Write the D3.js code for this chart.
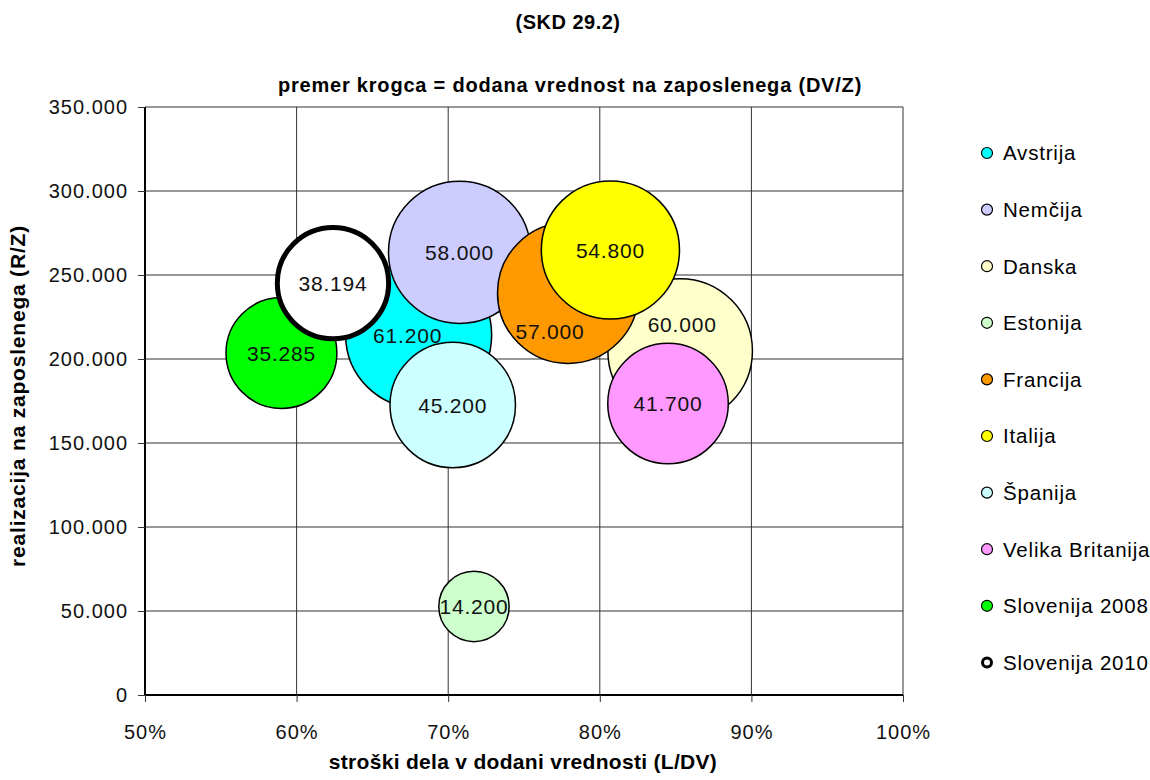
<!DOCTYPE html>
<html>
<head>
<meta charset="utf-8">
<script src="https://cdn.jsdelivr.net/npm/d3@7"></script>
<style>
  body { margin: 0; background: #fff; }
  text { font-family: "Liberation Sans", Arial, sans-serif; }
</style>
</head>
<body>
<div id="chart"></div>
<script>
// Data
var countries = ["Avstrija", "Nemčija", "Danska", "Estonija", "Francija", "Italija",
                 "Španija", "Velika Britanija", "Slovenija 2008", "Slovenija 2010"];
var laborShare = [0.6805, 0.7075, 0.853, 0.717, 0.779, 0.807, 0.703, 0.845, 0.590, 0.624]; // L/DV
var salesPerEmp = [214300, 263500, 204800, 52700, 239300, 264900, 172600, 173500, 203600, 245200]; // R/Z
var valueAdded = [61200, 58000, 60000, 14200, 57000, 54800, 45200, 41700, 35285, 38194]; // DV/Z
var colors = ["#00ffff", "#ccccff", "#ffffcc", "#ccffcc", "#ff9900", "#ffff00",
              "#ccffff", "#ff99ff", "#00ff00", "#ffffff"];
var yTicks = [0, 50000, 100000, 150000, 200000, 250000, 300000, 350000];
var xTicks = [0.5, 0.6, 0.7, 0.8, 0.9, 1.0];

// labels that were moved by hand in the original
var labelNudge = { "Avstrija": [-11, 0], "Francija": [-18, 38], "Danska": [2, -26] };

var svgWidth = 1150;
var svgHeight = 780;
var margin = { top: 107, right: 247, bottom: 85, left: 145 };
var width = svgWidth - margin.left - margin.right;
var height = svgHeight - margin.top - margin.bottom;

var sl = d3.formatLocale({ decimal: ",", thousands: ".", grouping: [3], currency: ["", " €"] });
var numFmt = sl.format(",.0f");
var pctFmt = d3.format(".0%");

var data = countries.map(function(c, i) {
    return { name: c, x: laborShare[i], y: salesPerEmp[i], dv: valueAdded[i], color: colors[i] };
});

var svg = d3.select("#chart")
    .append("svg")
    .attr("width", svgWidth)
    .attr("height", svgHeight);

var chartGroup = svg.append("g")
    .attr("transform", `translate(${margin.left}, ${margin.top})`);

var xScale = d3.scaleLinear().domain([0.5, 1.0]).range([0, width]);
var yScale = d3.scaleLinear().domain([0, 350000]).range([height, 0]);
var rScale = d3.scaleSqrt().domain([0, 61200]).range([0, 73]);

// gridlines
chartGroup.append("g")
    .selectAll("line.h")
    .data(yTicks.slice(1))
    .enter().append("line")
    .attr("x1", 0).attr("x2", width)
    .attr("y1", d => yScale(d)).attr("y2", d => yScale(d))
    .attr("stroke", "#333").attr("stroke-width", 1);

chartGroup.append("g")
    .selectAll("line.v")
    .data(xTicks.slice(1))
    .enter().append("line")
    .attr("y1", 0).attr("y2", height)
    .attr("x1", d => xScale(d)).attr("x2", d => xScale(d))
    .attr("stroke", "#333").attr("stroke-width", 1);

// axes
var bottomAxis = d3.axisBottom(xScale).tickValues(xTicks).tickFormat(pctFmt).tickSize(7).tickPadding(23);
var leftAxis = d3.axisLeft(yScale).tickValues(yTicks).tickFormat(numFmt).tickSize(7).tickPadding(10);

var xAxisG = chartGroup.append("g")
    .attr("transform", `translate(0, ${height})`)
    .call(bottomAxis);
var yAxisG = chartGroup.append("g").call(leftAxis);

[xAxisG, yAxisG].forEach(function(g) {
    g.select(".domain").attr("stroke", "#000").attr("stroke-width", 2);
    g.selectAll(".tick line").attr("stroke", "#333");
    g.selectAll(".tick text")
        .attr("fill", "#111")
        .style("font-size", "20px")
        .style("letter-spacing", "1px")
        .style("font-family", "'Liberation Sans', Arial, sans-serif");
});
yAxisG.select(".domain").attr("d", `M0,0V${height}`);
xAxisG.select(".domain").attr("d", `M0,0H${width}`);

// bubbles
var bubbles = chartGroup.selectAll("circle.bubble")
    .data(data)
    .enter()
    .append("circle")
    .attr("class", "bubble")
    .attr("cx", d => xScale(d.x))
    .attr("cy", d => yScale(d.y))
    .attr("r", d => d.name === "Slovenija 2010" ? rScale(d.dv) - 2 : rScale(d.dv))
    .attr("fill", d => d.color)
    .attr("stroke", "#000")
    .attr("stroke-width", d => d.name === "Slovenija 2010" ? 5 : 1.5);

chartGroup.selectAll("text.lbl")
    .data(data)
    .enter()
    .append("text")
    .attr("class", "lbl")
    .attr("x", d => xScale(d.x) + (labelNudge[d.name] ? labelNudge[d.name][0] : 0))
    .attr("y", d => yScale(d.y) + (labelNudge[d.name] ? labelNudge[d.name][1] : 0))
    .attr("dy", "0.36em")
    .attr("text-anchor", "middle")
    .style("font-size", "21px")
    .style("letter-spacing", "0.8px")
    .attr("fill", "#111")
    .text(d => numFmt(d.dv));

// titles
svg.append("text")
    .attr("x", 568).attr("y", 29)
    .attr("text-anchor", "middle")
    .style("font-size", "20px").style("font-weight", "bold")
    .style("letter-spacing", "0.5px")
    .text("(SKD 29.2)");

svg.append("text")
    .attr("x", 570).attr("y", 92)
    .attr("text-anchor", "middle")
    .style("font-size", "20px").style("font-weight", "bold")
    .style("letter-spacing", "0.8px")
    .text("premer krogca = dodana vrednost na zaposlenega (DV/Z)");

svg.append("text")
    .attr("transform", "rotate(-90)")
    .attr("x", -(margin.top + height / 2) + 5)
    .attr("y", 25)
    .attr("text-anchor", "middle")
    .style("font-size", "21px").style("font-weight", "bold")
    .style("letter-spacing", "0.8px")
    .text("realizacija na zaposlenega (R/Z)");

svg.append("text")
    .attr("x", 523)
    .attr("y", 769)
    .attr("text-anchor", "middle")
    .style("font-size", "21px").style("font-weight", "bold")
    .style("letter-spacing", "0.3px")
    .text("stroški dela v dodani vrednosti (L/DV)");

// legend
var legend = svg.append("g").attr("transform", "translate(987, 153)");
var items = legend.selectAll("g")
    .data(data)
    .enter().append("g")
    .attr("transform", (d, i) => `translate(0, ${i * 56.6})`);

items.append("circle")
    .attr("r", d => d.name === "Slovenija 2010" ? 4.5 : 5.5)
    .attr("fill", d => d.color)
    .attr("stroke", "#000")
    .attr("stroke-width", d => d.name === "Slovenija 2010" ? 3 : 1.2);

items.append("text")
    .attr("x", 16)
    .attr("dy", "0.36em")
    .style("font-size", "20.5px")
    .style("letter-spacing", "0.8px")
    .text(d => d.name);
</script>
</body>
</html>
